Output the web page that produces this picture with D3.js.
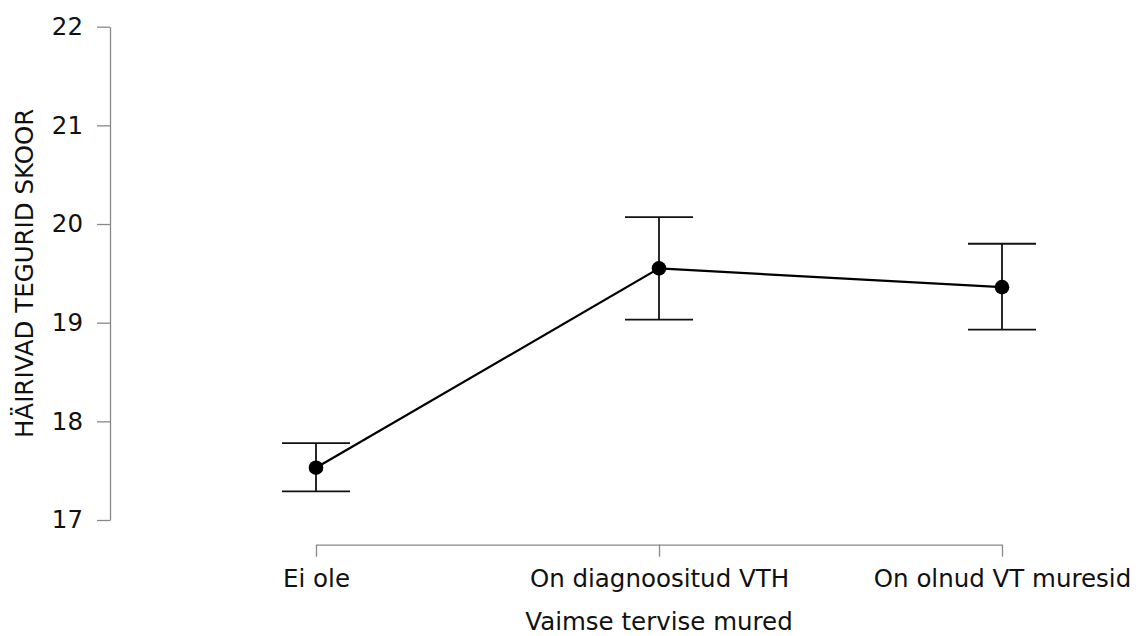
<!DOCTYPE html>
<html><head><meta charset="utf-8">
<script src="https://cdn.jsdelivr.net/npm/d3@7"></script>
<style>body{margin:0;background:#fff}svg{display:block}text{font-family:"DejaVu Sans",sans-serif;fill:#111}</style>
</head><body><svg id="c" width="1141" height="636"></svg>
<script>
const categories = ["Ei ole", "On diagnoositud VTH", "On olnud VT muresid"];
const means = [17.53, 19.55, 19.36];
const lower = [17.29, 19.03, 18.93];
const upper = [17.78, 20.07, 19.80];
const yTicks = [17, 18, 19, 20, 21, 22];
const xTitle = "Vaimse tervise mured";
const yTitle = "HÄIRIVAD TEGURID SKOOR";

const FS = "24.5px";
const svg = d3.select("#c");
const y = d3.scaleLinear().domain([17, 22]).range([520, 26.7]);
const x = d3.scalePoint().domain(categories).range([316, 1002]);
const data = categories.map((c, i) => ({c, m: means[i], lo: lower[i], hi: upper[i]}));

// y axis
const ya = svg.append("g").attr("transform", "translate(110,0)")
  .call(d3.axisLeft(y).tickValues(yTicks).tickFormat(d3.format("d")).tickSize(13).tickPadding(14).tickSizeOuter(0));
ya.select(".domain").attr("stroke", "#888").attr("stroke-width", 1.3);
ya.selectAll(".tick line").attr("stroke", "#888").attr("stroke-width", 1.3);
ya.selectAll(".tick text").style("font-size", FS).attr("fill", "#111").style("font-family", "DejaVu Sans");

// x axis
const xa = svg.append("g").attr("transform", "translate(0,544.7)")
  .call(d3.axisBottom(x).tickSize(12).tickPadding(12.6).tickSizeOuter(0));
xa.select(".domain").attr("stroke", "#888").attr("stroke-width", 1.3);
xa.selectAll(".tick line").attr("stroke", "#888").attr("stroke-width", 1.3);
xa.selectAll(".tick text").style("font-size", FS).attr("fill", "#111").style("font-family", "DejaVu Sans");

// titles
svg.append("text").attr("x", x(categories[1])).attr("y", 629.5).attr("text-anchor", "middle")
  .style("font-size", FS).text(xTitle);
svg.append("text").attr("transform", `translate(33,${(y(17)+y(22))/2}) rotate(-90)`).attr("text-anchor", "middle")
  .style("font-size", FS).text(yTitle);

// error bars
const g = svg.append("g");
const cap = 34;
g.selectAll(".eb").data(data).join("line").attr("x1", d => x(d.c)).attr("x2", d => x(d.c))
  .attr("y1", d => y(d.lo)).attr("y2", d => y(d.hi)).attr("stroke", "#111").attr("stroke-width", 1.8);
g.selectAll(".capT").data(data).join("line").attr("x1", d => x(d.c) - cap).attr("x2", d => x(d.c) + cap)
  .attr("y1", d => y(d.hi)).attr("y2", d => y(d.hi)).attr("stroke", "#111").attr("stroke-width", 1.8);
g.selectAll(".capB").data(data).join("line").attr("x1", d => x(d.c) - cap).attr("x2", d => x(d.c) + cap)
  .attr("y1", d => y(d.lo)).attr("y2", d => y(d.lo)).attr("stroke", "#111").attr("stroke-width", 1.8);

// line
g.append("path").datum(data).attr("fill", "none").attr("stroke", "#000").attr("stroke-width", 2.2)
  .attr("d", d3.line().x(d => x(d.c)).y(d => y(d.m)));
// points
g.selectAll("circle").data(data).join("circle").attr("cx", d => x(d.c)).attr("cy", d => y(d.m))
  .attr("r", 7.3).attr("fill", "#000");
</script></body></html>
